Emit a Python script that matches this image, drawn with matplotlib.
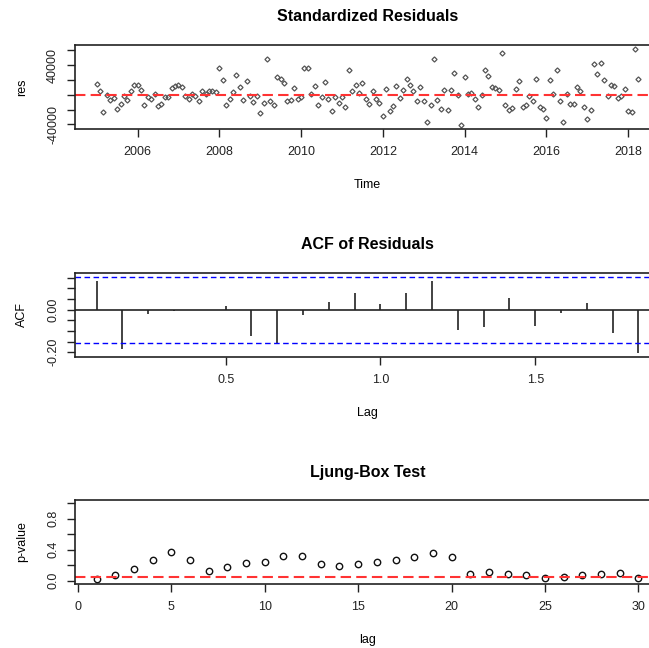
import numpy as np
import matplotlib
matplotlib.use("Agg")
import matplotlib.pyplot as plt

plt.rcParams['font.family'] = ['Liberation Sans', 'DejaVu Sans']

# monthly series start
ts_start = 2005
ts_freq = 12

# standardized residuals
res = [
    14900, 5000, -23400, -900, -6800, -4100, -18900, -13100, -1800, -6800,
    4500, 13500, 13500, 6800, -13500, -3200, -5400, 500, -15800, -12200,
    -3200, -3200, 9500, 12200, 13500, 10800, -1800, -5400, 1400, -1800,
    -9000, 4500, 1400, 5400, 5000, 3600, 35400, 20200, -13700, -5200,
    3400, 27000, 9700, -7200, 18500, -1800, -9900, -1800, -25000, -11900,
    48400, -8100, -13700, 23600, 21800, 15100, -8800, -7200, 8400, -5200,
    -2900, 35400, 35400, 500, 11800, -13700, -2900, 16900, -5200, -22000,
    -3100, -11300, -3100, -17100, 32900, 4500, 13500, 2700, 16200, -6300,
    -12200, 5000, -6300, -10800, -28800, 8100, -22000, -15300, 12200, -4000,
    6800, 21600, 13500, 4500, -9000, 9900, -9000, -36900, -13500, 48600,
    -6800, -18900, 6800, -20300, 6800, 29700, 0, -41400, 23400, 1400,
    2700, -5400, -16700, 0, 33800, 25200, 10400, 9000, 6800, 56300,
    -13500, -20300, -18000, 8100, 18000, -16700, -14400, -1800, -8600, 21600,
    -16700, -18900, -32000, 19400, 1400, 32900, -9000, -36900, 1400, -12200,
    -12200, 10400, 5000, -16700, -32400, -20700, 41400, 27900, 42800, 19800,
    -1800, 13500, 11300, -4000, -2300, 8100, -21600, -23400, 61200, 21600,
]

# ACF of residuals, lags 1..22 (in years)
acf_vals = [
    0.134, -0.186, -0.019, -0.006, 0.0, 0.019, -0.123, -0.155, -0.025, 0.037,
    0.077, 0.025, 0.077, 0.134, -0.095, -0.080, 0.053, -0.075, -0.014, 0.033,
    -0.108, -0.205,
]
acf_clim = 0.155

# Ljung-Box p-values, lags 1..30
lb_lags = list(range(1, 31))
pvals = [
    0.017, 0.069, 0.147, 0.263, 0.371, 0.263, 0.129, 0.181, 0.224, 0.241,
    0.323, 0.323, 0.211, 0.194, 0.211, 0.241, 0.263, 0.306, 0.353, 0.306,
    0.082, 0.116, 0.082, 0.069, 0.039, 0.052, 0.069, 0.082, 0.099, 0.039,
]

time = ts_start + np.arange(len(res)) / ts_freq
lags = np.arange(1, len(acf_vals) + 1) / ts_freq

W, H = 649, 648
fig = plt.figure(figsize=(W / 100, H / 100), dpi=100)

left = 75 / W
width = 585 / W


def make_ax(top_px, bot_px):
    ax = fig.add_axes([left, 1 - bot_px / H, width, (bot_px - top_px) / H])
    for s in ax.spines.values():
        s.set_linewidth(1.2)
        s.set_color('#222222')
    ax.tick_params(direction='out', length=5.5, width=1.0, colors='#222222',
                   labelsize=9, pad=7)
    ax.tick_params(axis='y', labelrotation=90, pad=6)
    return ax


def finish(ax, title, xlabel, ylabel, xl_y):
    ax.set_title(title, fontsize=11.5, fontweight='bold', pad=17)
    ax.set_xlabel(xlabel, fontsize=9, va='center')
    ax.xaxis.set_label_coords(0.5, xl_y)
    ax.set_ylabel(ylabel, fontsize=9, va='center')
    ax.yaxis.set_label_coords(-53 / 585, 0.5)
    for lab in ax.get_yticklabels():
        lab.set_va('center')


# standardized residuals
ax1 = make_ax(45, 129)
ax1.plot(time, res, 'D', ms=2.6, mfc='none', mec='#555555', mew=0.9)
ax1.axhline(0, color='#ff3333', ls=(0, (5, 2.5)), lw=1.5)
ax1.set_xlim(2004.47, 2018.78)
ax1.set_ylim(-46300, 67000)
ax1.set_xticks([2006, 2008, 2010, 2012, 2014, 2016, 2018])
ax1.set_yticks([-40000, -20000, 0, 20000, 40000, 60000])
ax1.set_yticklabels(['-40000', '', '', '', '40000', ''])
finish(ax1, 'Standardized Residuals', 'Time', 'res', -0.667)

# ACF of residuals
ax2 = make_ax(273, 356.7)
ax2.vlines(lags, 0, acf_vals, color='#222222', lw=1.2)
ax2.axhline(0, color='#222222', lw=1.2)
ax2.axhline(acf_clim, color='blue', ls=(0, (4, 2.5)), lw=1.0)
ax2.axhline(-acf_clim, color='blue', ls=(0, (4, 2.5)), lw=1.0)
ax2.set_xlim(0.0133, 1.903)
ax2.set_ylim(-0.221, 0.172)
ax2.set_xticks([0.5, 1.0, 1.5])
ax2.set_xticklabels(['0.5', '1.0', '1.5'])
ax2.set_yticks([-0.20, -0.15, -0.10, -0.05, 0.0, 0.05, 0.10, 0.15])
ax2.set_yticklabels(['-0.20', '', '', '', '0.00', '', '', ''])
finish(ax2, 'ACF of Residuals', 'Lag', 'ACF', -0.669)

# Ljung-Box
ax3 = make_ax(500.3, 583.7)
ax3.plot(lb_lags, pvals, 'o', ms=4.6, mfc='none', mec='#111111', mew=1.0)
ax3.axhline(0.05, color='#ff3333', ls=(0, (5, 2.5)), lw=1.5)
ax3.set_xlim(-0.16, 31.16)
ax3.set_ylim(-0.04, 1.04)
ax3.set_xticks([0, 5, 10, 15, 20, 25, 30])
ax3.set_yticks([0, 0.2, 0.4, 0.6, 0.8, 1.0])
ax3.set_yticklabels(['0.0', '', '0.4', '', '0.8', ''])
finish(ax3, 'Ljung-Box Test', 'lag', 'p-value', -0.675)

fig.savefig('out.png', dpi=100)
